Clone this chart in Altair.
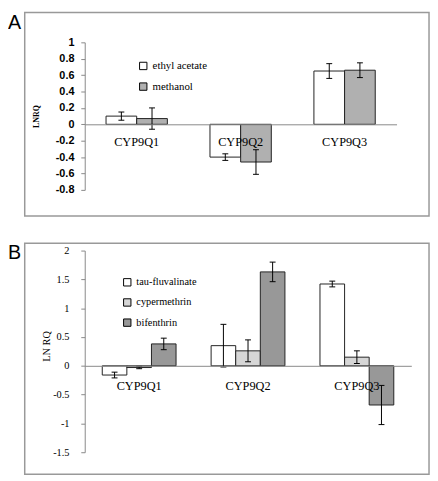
import altair as alt
import pandas as pd

genes = ["CYP9Q1", "CYP9Q2", "CYP9Q3"]

# Panel A
a_series = ["ethyl acetate", "methanol"]
a_ethyl = [0.10, -0.40, 0.65]
a_ethyl_err = [0.05, 0.04, 0.09]
a_meth = [0.07, -0.46, 0.66]
a_meth_err = [0.13, 0.15, 0.09]
a_colors = ["#ffffff", "#b0b0b0"]
a_ticks = [-0.8, -0.6, -0.4, -0.2, 0, 0.2, 0.4, 0.6, 0.8, 1]

# Panel B
b_series = ["tau-fluvalinate", "cypermethrin", "bifenthrin"]
b_tau = [-0.16, 0.35, 1.42]
b_tau_err = [0.05, 0.37, 0.05]
b_cyp = [-0.03, 0.26, 0.15]
b_cyp_err = [0.02, 0.19, 0.11]
b_bif = [0.38, 1.63, -0.68]
b_bif_err = [0.10, 0.17, 0.34]
b_colors = ["#ffffff", "#d6d6d6", "#989898"]
b_ticks = [-1.5, -1, -0.5, 0, 0.5, 1, 1.5, 2]


def long_df(series, values, errs):
    rows = []
    for s, vals, es in zip(series, values, errs):
        for g, v, e in zip(genes, vals, es):
            rows.append({"gene": g, "series": s, "value": v, "lo": v - e, "hi": v + e})
    return pd.DataFrame(rows)


df_a = long_df(a_series, [a_ethyl, a_meth], [a_ethyl_err, a_meth_err])
df_b = long_df(b_series, [b_tau, b_cyp, b_bif], [b_tau_err, b_cyp_err, b_bif_err])
one = pd.DataFrame({"k": [0]})

SERIF = "Liberation Serif"
SANS = "Liberation Sans"
AXC = "#888888"


def panel(df, series, colors, ticks, width, height, pad_inner, letter, frame,
          ylab, xlab, ytitle, legend):
    ymin, ymax = ticks[0], ticks[-1]
    zero_off = -(height - height * ymax / (ymax - ymin))
    xscale = alt.Scale(domain=genes, paddingInner=pad_inner, paddingOuter=pad_inner / 2)
    yscale = alt.Scale(domain=[ymin, ymax], nice=False)
    xaxis = alt.Axis(orient="bottom", offset=zero_off, title=None, ticks=False, tickSize=0,
                     labelAngle=0, labelFont=SERIF, labelFontSize=xlab["size"],
                     labelPadding=xlab["pad"], labelColor="black",
                     domainColor=AXC, domainWidth=1, zindex=1)
    yaxis = alt.Axis(values=ticks, labelExpr="toString(datum.value)", grid=False,
                     tickSize=4, tickColor=AXC, domainColor=AXC, domainWidth=1,
                     labelFont=ylab["font"], labelFontSize=ylab["size"],
                     labelFontWeight=ylab["weight"], labelPadding=ylab["pad"],
                     labelColor="black",
                     title=ytitle["text"], titleFont=SERIF, titleFontSize=ytitle["size"],
                     titleFontWeight=ytitle["weight"], titleX=ytitle["x"], titleY=ytitle["y"],
                     titleAngle=270, titleAlign="center", titleBaseline="middle",
                     titleColor="black")
    base = alt.Chart(df)
    xenc = alt.X("gene:N", scale=xscale, axis=xaxis, sort=genes)
    xoff = alt.XOffset("series:N", sort=series, scale=alt.Scale(domain=series))
    bars = base.mark_bar(stroke="#222222", strokeWidth=1).encode(
        x=xenc,
        xOffset=xoff,
        y=alt.Y("value:Q", scale=yscale, axis=yaxis),
        fill=alt.Fill("series:N", sort=series,
                      scale=alt.Scale(domain=series, range=colors),
                      legend=alt.Legend(title=None, orient="none",
                                        legendX=legend["x"], legendY=legend["y"],
                                        direction="vertical",
                                        symbolType="square", symbolSize=56,
                                        symbolStrokeColor="black", symbolStrokeWidth=1,
                                        symbolOpacity=1,
                                        labelFont=SERIF, labelFontSize=legend["size"],
                                        labelFontWeight="normal",
                                        labelColor="black",
                                        labelOffset=4, rowPadding=legend["rowpad"],
                                        padding=0)),
    )
    ylo = alt.Y("lo:Q", scale=yscale, axis=yaxis)
    yhi = alt.Y("hi:Q", scale=yscale, axis=yaxis)
    rule = base.mark_rule(color="black", strokeWidth=1).encode(
        x=xenc, xOffset=xoff, y=ylo, y2="hi:Q")
    cap_lo = base.mark_tick(color="black", thickness=1, size=6, orient="horizontal",
                            opacity=1).encode(x=xenc, xOffset=xoff, y=ylo)
    cap_hi = base.mark_tick(color="black", thickness=1, size=6, orient="horizontal",
                            opacity=1).encode(x=xenc, xOffset=xoff, y=yhi)
    box = alt.Chart(one).mark_rect(fillOpacity=0, stroke="#999999", strokeWidth=1.5).encode(
        x=alt.value(frame[0]), x2=alt.value(frame[1]),
        y=alt.value(frame[2]), y2=alt.value(frame[3]))
    lab = alt.Chart(one).mark_text(text=letter["text"], font=SANS, fontSize=20,
                                   align="left", baseline="top", color="black").encode(
        x=alt.value(letter["x"]), y=alt.value(letter["y"]))
    return alt.layer(box, lab, bars, rule, cap_lo, cap_hi).properties(width=width, height=height)


chart_a = panel(
    df_a, a_series, a_colors, a_ticks, 317, 150, 0.41,
    letter={"text": "A", "x": -78, "y": -29.5},
    frame=[-61, 350, -30.25, 176.5],
    ylab={"font": SANS, "size": 11, "weight": "bold", "pad": 7},
    xlab={"size": 12.5, "pad": 12},
    ytitle={"text": "LNRQ", "size": 8, "weight": "bold", "x": -49, "y": 75},
    legend={"x": 54, "y": 18.5, "size": 11, "rowpad": 8},
)

chart_b = panel(
    df_b, b_series, b_colors, b_ticks, 332, 205, 0.322,
    letter={"text": "B", "x": -78, "y": -7.9},
    frame=[-61, 350, -7.4, 227.3],
    ylab={"font": SERIF, "size": 10.5, "weight": "normal", "pad": 12},
    xlab={"size": 12.5, "pad": 14},
    ytitle={"text": "LN RQ", "size": 10.5, "weight": "normal", "x": -39, "y": 97},
    legend={"x": 38, "y": 27, "size": 10.5, "rowpad": 8.5},
)

chart = alt.vconcat(chart_a, chart_b, spacing=61.7, bounds="flush").resolve_scale(
    x="independent", y="independent", fill="independent", xOffset="independent"
).configure(font=SERIF).configure_view(stroke=None).configure_legend(
    labelFont=SERIF, labelColor="black"
).properties(padding=0, background="white")

chart.save("out.html", embed_options={"renderer": "svg", "actions": False})
